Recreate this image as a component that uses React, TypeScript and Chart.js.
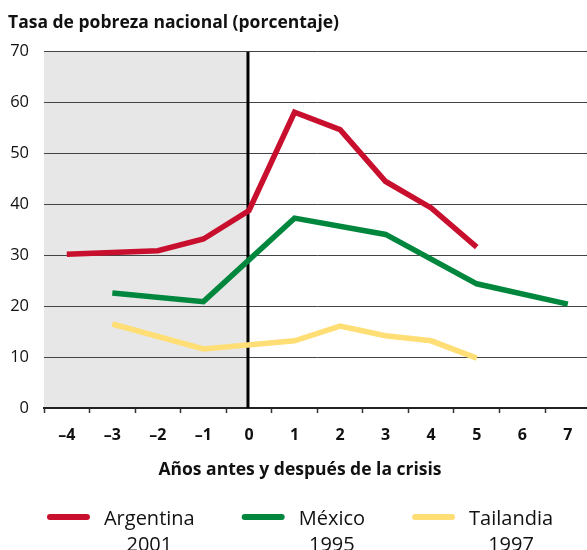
import React, { useEffect, useRef } from 'react';
import { Chart, registerables } from 'chart.js';
Chart.register(...registerables);

const FONT = "'Open Sans', sans-serif";

const yearLabels = ['–4', '–3', '–2', '–1', '0', '1', '2', '3', '4', '5', '6', '7'];
const argentina = [30.2, null, 30.9, 33.2, 38.8, 58.1, 54.7, 44.5, 39.3, 31.6, null, null];
const mexico = [null, 22.6, null, 20.9, null, 37.3, null, 34.1, null, 24.4, null, 20.4];
const tailandia = [null, 16.5, null, 11.6, null, 13.2, 16.1, 14.2, 13.2, 9.8, null, null];
const seriesNames = ['Argentina', 'México', 'Tailandia'];
const seriesYears = ['2001', '1995', '1997'];
const seriesColors = ['#C8102E', '#00873D', '#FFDE75'];
const chartTitle = 'Tasa de pobreza nacional (porcentaje)';
const xTitle = 'Años antes y después de la crisis';
const crisisLabel = '0';

const crisisPlugin = {
  id: 'crisis',
  beforeDraw(chart: any) {
    const { ctx, chartArea, scales } = chart;
    const x = scales.x.getPixelForValue(yearLabels.indexOf(crisisLabel)) - 1;
    ctx.save();
    ctx.fillStyle = '#E6E7E6';
    ctx.fillRect(chartArea.left, chartArea.top, x - chartArea.left, chartArea.bottom - chartArea.top);
    ctx.restore();
  },
  beforeDatasetsDraw(chart: any) {
    const { ctx, chartArea, scales } = chart;
    const x = scales.x.getPixelForValue(yearLabels.indexOf(crisisLabel)) - 1;
    ctx.save();
    ctx.strokeStyle = '#000';
    ctx.lineWidth = 3;
    ctx.beginPath();
    ctx.moveTo(x, chartArea.top);
    ctx.lineTo(x, chartArea.bottom);
    ctx.stroke();
    ctx.restore();
  },
};

const legendPlugin = {
  id: 'twoLineLegend',
  afterDraw(chart: any) {
    const { ctx } = chart;
    const centerX = 300;
    ctx.save();
    // x-axis title
    ctx.font = `bold 17.5px ${FONT}`;
    ctx.fillStyle = '#111';
    ctx.textAlign = 'center';
    ctx.textBaseline = 'middle';
    ctx.fillText(xTitle, centerX, chart.chartArea.bottom + 62);
    // legend
    const swatch = 43;
    const gapText = 14;
    const gapItem = 47;
    ctx.font = `20px ${FONT}`;
    const widths = seriesNames.map((n, i) => Math.max(ctx.measureText(n).width, ctx.measureText(seriesYears[i]).width));
    const total = widths.reduce((a, w) => a + swatch + gapText + w, 0) + gapItem * (widths.length - 1);
    let x = centerX - total / 2;
    const yLine = chart.chartArea.bottom + 109;
    chart.data.datasets.forEach((ds: any, i: number) => {
      ctx.strokeStyle = ds.borderColor;
      ctx.lineWidth = 6;
      ctx.lineCap = 'round';
      ctx.beginPath();
      ctx.moveTo(x + 3, yLine);
      ctx.lineTo(x + swatch - 3, yLine);
      ctx.stroke();
      const tx = x + swatch + gapText;
      ctx.fillStyle = '#111';
      ctx.textBaseline = 'alphabetic';
      ctx.textAlign = 'center';
      ctx.fillText(seriesNames[i], tx + widths[i] / 2, yLine + 8);
      ctx.fillText(seriesYears[i], tx + widths[i] / 2, yLine + 34);
      x = tx + widths[i] + gapItem;
    });
    ctx.restore();
  },
};

export default function App() {
  const ref = useRef<HTMLCanvasElement>(null);
  useEffect(() => {
    const chart = new Chart(ref.current!, {
      type: 'line',
      data: {
        labels: yearLabels,
        datasets: [argentina, mexico, tailandia].map((d, i) => ({
          label: seriesNames[i],
          data: d,
          borderColor: seriesColors[i],
          backgroundColor: seriesColors[i],
          borderWidth: 5.5,
          pointRadius: 0,
          tension: 0,
          spanGaps: true,
          borderJoinStyle: 'miter' as const,
          borderCapStyle: 'butt' as const,
        })),
      },
      options: {
        animation: false,
        responsive: false,
        layout: { padding: { left: 8, right: 1.4, top: 0, bottom: 62 } },
        plugins: {
          legend: { display: false },
          tooltip: { enabled: false },
          title: {
            display: true,
            text: chartTitle,
            align: 'start',
            color: '#111',
            font: { family: FONT, size: 17.5, weight: 'bold' },
            padding: { top: 12.5, bottom: 18.2 },
          },
        },
        scales: {
          x: {
            type: 'category',
            offset: true,
            grid: { offset: true, drawOnChartArea: false, drawTicks: true, tickLength: 5, tickColor: '#333', tickWidth: 1.5 },
            border: { display: true, color: '#222', width: 2 },
            ticks: { color: '#111', font: { family: FONT, size: 16, weight: 'bold' }, padding: 12.4, maxRotation: 0, autoSkip: false },
            afterFit: (s: any) => { s.height = 80; },
          },
          y: {
            min: 0,
            max: 70,
            ticks: { stepSize: 10, color: '#111', font: { family: FONT, size: 16.5 }, padding: 15 },
            grid: { color: '#444', lineWidth: 1, drawTicks: false },
            border: { display: false },
            afterFit: (s: any) => { s.width = 36; },
          },
        },
      },
      plugins: [crisisPlugin, legendPlugin],
    });
    return () => chart.destroy();
  }, []);
  return (
    <div style={{ position: 'fixed', left: 0, top: 0, width: 587, height: 550, overflow: 'hidden', background: '#fff' }}>
      <canvas ref={ref} width={592} height={550} style={{ display: 'block' }} />
    </div>
  );
}
